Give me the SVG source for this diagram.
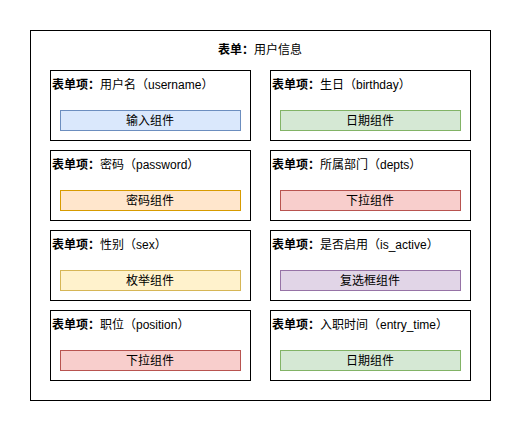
<svg xmlns="http://www.w3.org/2000/svg" width="521" height="431" viewBox="0 0 521 431">
<style>
text{font-family:"Liberation Sans","Noto Sans CJK SC",sans-serif;font-size:12px;fill:#000}
.b{font-weight:bold}
.card{fill:#fff;stroke:#000;stroke-width:1}
.c{text-anchor:middle}
.blue{fill:#dae8fc;stroke:#6c8ebf}
.green{fill:#d5e8d4;stroke:#82b366}
.orange{fill:#ffe6cc;stroke:#d79b00}
.yellow{fill:#fff2cc;stroke:#d6b656}
.red{fill:#f8cecc;stroke:#b85450}
.purple{fill:#e1d5e7;stroke:#9673a6}
</style>
<rect width="521" height="431" fill="#fff"/>
<g id="form">
<rect x="30.5" y="30.5" width="460" height="370" class="card"/>
<text x="260" y="53.5" class="c"><tspan class="b">表单：</tspan>用户信息</text>
</g>
<g id="item-username">
<rect x="50.5" y="70.5" width="200" height="70" class="card"/>
<text x="52" y="88.5"><tspan class="b">表单项：</tspan>用户名（username）</text>
<rect x="60.5" y="110.5" width="180" height="20" class="blue"/>
<text x="150" y="124.5" class="c">输入组件</text>
</g>
<g id="item-birthday">
<rect x="270.5" y="70.5" width="200" height="70" class="card"/>
<text x="272" y="88.5"><tspan class="b">表单项：</tspan>生日（birthday）</text>
<rect x="280.5" y="110.5" width="180" height="20" class="green"/>
<text x="370" y="124.5" class="c">日期组件</text>
</g>
<g id="item-password">
<rect x="50.5" y="150.5" width="200" height="70" class="card"/>
<text x="52" y="168.5"><tspan class="b">表单项：</tspan>密码（password）</text>
<rect x="60.5" y="190.5" width="180" height="20" class="orange"/>
<text x="150" y="204.5" class="c">密码组件</text>
</g>
<g id="item-depts">
<rect x="270.5" y="150.5" width="200" height="70" class="card"/>
<text x="272" y="168.5"><tspan class="b">表单项：</tspan>所属部门（depts）</text>
<rect x="280.5" y="190.5" width="180" height="20" class="red"/>
<text x="370" y="204.5" class="c">下拉组件</text>
</g>
<g id="item-sex">
<rect x="50.5" y="230.5" width="200" height="70" class="card"/>
<text x="52" y="248.5"><tspan class="b">表单项：</tspan>性别（sex）</text>
<rect x="60.5" y="270.5" width="180" height="20" class="yellow"/>
<text x="150" y="284.5" class="c">枚举组件</text>
</g>
<g id="item-is-active">
<rect x="270.5" y="230.5" width="200" height="70" class="card"/>
<text x="272" y="248.5"><tspan class="b">表单项：</tspan>是否启用（is_active）</text>
<rect x="280.5" y="270.5" width="180" height="20" class="purple"/>
<text x="370" y="284.5" class="c">复选框组件</text>
</g>
<g id="item-position">
<rect x="50.5" y="310.5" width="200" height="70" class="card"/>
<text x="52" y="328.5"><tspan class="b">表单项：</tspan>职位（position）</text>
<rect x="60.5" y="350.5" width="180" height="20" class="red"/>
<text x="150" y="364.5" class="c">下拉组件</text>
</g>
<g id="item-entry-time">
<rect x="270.5" y="310.5" width="200" height="70" class="card"/>
<text x="272" y="328.5"><tspan class="b">表单项：</tspan>入职时间（entry_time）</text>
<rect x="280.5" y="350.5" width="180" height="20" class="green"/>
<text x="370" y="364.5" class="c">日期组件</text>
</g>
<g id="connectors"/>
</svg>
